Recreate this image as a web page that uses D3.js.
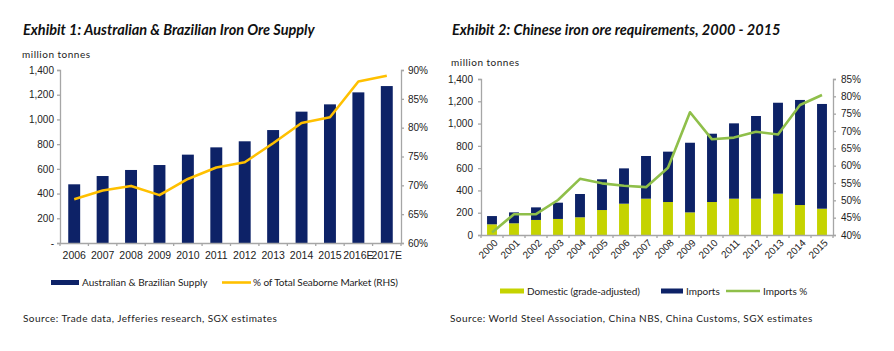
<!DOCTYPE html>
<html>
<head>
<meta charset="utf-8">
<script src="https://cdn.jsdelivr.net/npm/d3@7"></script>
<style>
  body { margin: 0; background: #fff; }
  svg { font-family: Lato, "Open Sans", sans-serif; }
</style>
</head>
<body>
<svg id="chart" width="894" height="351"></svg>
<script>
// Exhibit 1 data
var supplyYears = ["2006", "2007", "2008", "2009", "2010", "2011", "2012", "2013", "2014", "2015", "2016E", "2017E"];
var supplyValues = [475, 542, 591, 631, 715, 774, 823, 914, 1063, 1122, 1219, 1270];
var seaborneShare = [67.6, 69.1, 69.9, 68.3, 71.1, 73.1, 74.0, 77.3, 80.8, 81.8, 88.0, 89.0];

// Exhibit 2 data
var chinaYears = ["2000", "2001", "2002", "2003", "2004", "2005", "2006", "2007", "2008", "2009", "2010", "2011", "2012", "2013", "2014", "2015"];
var domestic = [96, 105, 135, 144, 159, 224, 281, 326, 296, 203, 296, 326, 326, 371, 269, 236];
var imports = [74, 98, 113, 146, 209, 276, 317, 383, 452, 625, 613, 676, 742, 816, 943, 940];
var importsPct = [40.7, 46.0, 46.0, 50.1, 56.2, 54.9, 54.2, 53.8, 59.4, 75.4, 67.6, 68.1, 69.8, 69.0, 77.5, 80.4];

var leftTicks = [0, 200, 400, 600, 800, 1000, 1200, 1400];

var NAVY = "#0d2267", GOLD = "#ffc000", LIME = "#c5d300", GREEN = "#8fbf4a", AXIS = "#a6a6a6", TXT = "#222";

var svg = d3.select("#chart");

function styleAxis(g) {
  g.selectAll("path.domain").attr("stroke", AXIS).attr("stroke-width", 1.3);
  g.selectAll(".tick line").attr("stroke", AXIS).attr("stroke-width", 1.3);
  g.selectAll("text").attr("fill", TXT).style("font-size", "10px");
}

function title(x, y, t) {
  svg.append("text").attr("x", x).attr("y", y)
    .style("font-size", "14.5px").style("font-weight", "bold").style("font-style", "italic")
    .attr("fill", "#111").text(t);
}

function small(x, y, t, size, spacing) {
  return svg.append("text").attr("x", x).attr("y", y)
    .style("font-size", (size || 10) + "px").style("letter-spacing", (spacing || 0) + "px")
    .attr("fill", TXT).text(t);
}

// ---------- Exhibit 1 ----------
(function() {
  var x0 = 60, x1 = 401, yTop = 70, yBot = 243;
  var x = d3.scaleBand().domain(supplyYears).range([x0, x1]).paddingInner(0.58).paddingOuter(0.29);
  var xb = d3.scaleBand().domain(supplyYears).range([x0, x1]);
  var y = d3.scaleLinear().domain([0, 1400]).range([yBot, yTop]);
  var y2 = d3.scaleLinear().domain([60, 90]).range([yBot, yTop]);

  title(23, 35, "Exhibit 1: Australian & Brazilian Iron Ore Supply");
  small(22, 58, "million tonnes", 10, 0.5);

  svg.append("g").selectAll("rect").data(supplyValues).enter().append("rect")
    .attr("x", function(d, i) { return x(supplyYears[i]); })
    .attr("y", function(d) { return y(d); })
    .attr("width", x.bandwidth())
    .attr("height", function(d) { return yBot - y(d); })
    .attr("fill", NAVY);

  var ga = svg.append("g").attr("transform", "translate(" + x0 + ",0)")
    .call(d3.axisLeft(y).tickValues(leftTicks).tickSize(3).tickPadding(3)
      .tickFormat(function(d) { return d === 0 ? "-" : d3.format(",")(d); }));
  styleAxis(ga);

  var gr = svg.append("g").attr("transform", "translate(" + x1 + ",0)")
    .call(d3.axisRight(y2).tickValues([60, 65, 70, 75, 80, 85, 90]).tickSize(3).tickPadding(4)
      .tickFormat(function(d) { return d + "%"; }));
  styleAxis(gr);

  var gx = svg.append("g").attr("transform", "translate(0," + yBot + ")")
    .call(d3.axisBottom(xb).tickSize(0).tickPadding(9));
  styleAxis(gx);
  gx.selectAll("text").style("font-size", "10.5px");
  gx.selectAll(".sep").data(d3.range(supplyYears.length + 1)).enter().append("line")
    .attr("x1", function(i) { return x0 + i * xb.step(); })
    .attr("x2", function(i) { return x0 + i * xb.step(); })
    .attr("y1", 0).attr("y2", 3).attr("stroke", AXIS).attr("stroke-width", 1.3);

  var line = d3.line()
    .x(function(d, i) { return xb(supplyYears[i]) + xb.bandwidth() / 2; })
    .y(function(d) { return y2(d); });
  svg.append("path").datum(seaborneShare).attr("d", line)
    .attr("fill", "none").attr("stroke", GOLD).attr("stroke-width", 2.6).attr("stroke-linejoin", "round");

  // legend
  svg.append("rect").attr("x", 51).attr("y", 280).attr("width", 28).attr("height", 5).attr("fill", NAVY);
  small(82, 286, "Australian & Brazilian Supply", 10);
  svg.append("line").attr("x1", 222).attr("x2", 251).attr("y1", 282.5).attr("y2", 282.5)
    .attr("stroke", GOLD).attr("stroke-width", 2.6);
  small(253, 286, "% of Total Seaborne Market (RHS)", 10, -0.1);

  small(23, 322, "Source: Trade data, Jefferies research, SGX estimates", 10, 0.45);
})();

// ---------- Exhibit 2 ----------
(function() {
  var x0 = 481, x1 = 833, yTop = 79, yBot = 235;
  var xb = d3.scaleBand().domain(chinaYears).range([x0, x1]);
  var x = d3.scaleBand().domain(chinaYears).range([x0, x1]).paddingInner(0.55).paddingOuter(0.275);
  var y = d3.scaleLinear().domain([0, 1400]).range([yBot, yTop]);
  var y2 = d3.scaleLinear().domain([40, 85]).range([yBot, yTop]);

  title(452, 35, "Exhibit 2: Chinese iron ore requirements, 2000 - 2015");
  small(451, 66, "million tonnes", 10, 0.5);

  var rows = chinaYears.map(function(yr, i) { return { year: yr, domestic: domestic[i], imports: imports[i] }; });
  var stacked = d3.stack().keys(["domestic", "imports"])(rows);
  var colors = { domestic: LIME, imports: NAVY };

  svg.append("g").selectAll("g").data(stacked).enter().append("g")
    .attr("fill", function(s) { return colors[s.key]; })
    .selectAll("rect").data(function(s) { return s; }).enter().append("rect")
    .attr("x", function(d) { return x(d.data.year); })
    .attr("y", function(d) { return y(d[1]); })
    .attr("width", x.bandwidth())
    .attr("height", function(d) { return y(d[0]) - y(d[1]); });

  var ga = svg.append("g").attr("transform", "translate(" + x0 + ",0)")
    .call(d3.axisLeft(y).tickValues(leftTicks).tickSize(3).tickPadding(5).tickFormat(d3.format(",")));
  styleAxis(ga);

  var gr = svg.append("g").attr("transform", "translate(" + x1 + ",0)")
    .call(d3.axisRight(y2).tickValues(d3.range(40, 86, 5)).tickSize(3).tickPadding(5)
      .tickFormat(function(d) { return d + "%"; }));
  styleAxis(gr);

  var gx = svg.append("g").attr("transform", "translate(0," + yBot + ")")
    .call(d3.axisBottom(xb).tickSize(0).tickPadding(0));
  styleAxis(gx);
  gx.selectAll("text")
    .attr("text-anchor", "end")
    .attr("transform", "translate(4,6) rotate(-45)")
    .attr("dy", "0.35em");
  gx.selectAll(".sep").data(d3.range(chinaYears.length + 1)).enter().append("line")
    .attr("x1", function(i) { return x0 + i * xb.step(); })
    .attr("x2", function(i) { return x0 + i * xb.step(); })
    .attr("y1", 0).attr("y2", 3).attr("stroke", AXIS).attr("stroke-width", 1.3);

  var line = d3.line()
    .x(function(d, i) { return xb(chinaYears[i]) + xb.bandwidth() / 2; })
    .y(function(d) { return y2(d); });
  svg.append("path").datum(importsPct).attr("d", line)
    .attr("fill", "none").attr("stroke", GREEN).attr("stroke-width", 2.6).attr("stroke-linejoin", "round");

  // legend
  svg.append("rect").attr("x", 500).attr("y", 288.5).attr("width", 24).attr("height", 5).attr("fill", LIME);
  small(527, 295, "Domestic (grade-adjusted)", 10, -0.1);
  svg.append("rect").attr("x", 661).attr("y", 288.5).attr("width", 22).attr("height", 5).attr("fill", NAVY);
  small(686, 295, "Imports", 10);
  svg.append("line").attr("x1", 726).attr("x2", 760).attr("y1", 291).attr("y2", 291)
    .attr("stroke", GREEN).attr("stroke-width", 2.6);
  small(763, 295, "Imports %", 10);

  small(450, 322, "Source: World Steel Association, China NBS, China Customs, SGX estimates", 10, 0.45);
})();
</script>
</body>
</html>
